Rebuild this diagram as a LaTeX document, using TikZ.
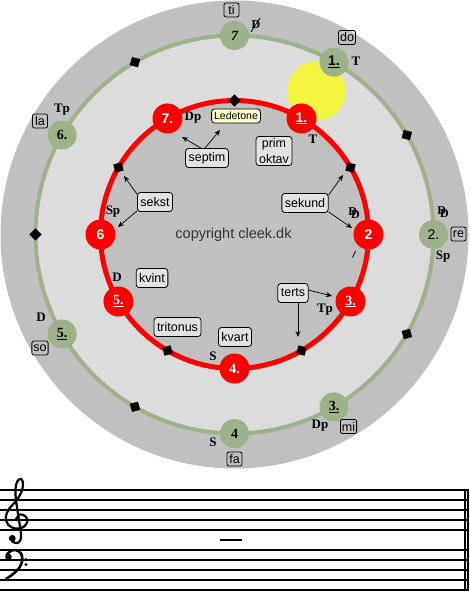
\documentclass[tikz,border=0pt]{standalone}
\usepackage{fontspec}
\setmainfont{Liberation Serif}
\setsansfont{Liberation Sans}
\usetikzlibrary{arrows.meta,shapes.geometric}
\definecolor{outergray}{HTML}{C0C0C0}
\definecolor{ringgray}{HTML}{DCDCDC}
\definecolor{sage}{HTML}{9CB389}
\definecolor{sun}{HTML}{F4F443}
\definecolor{boxfill}{HTML}{E2E2E2}
\definecolor{ledfill}{HTML}{FFFFCC}
\definecolor{copygray}{HTML}{333333}
\begin{document}
\begin{tikzpicture}[x=1pt,y=-1pt,
  gnode/.style={circle,fill=sage,minimum size=29pt,inner sep=0pt,font=\bfseries\fontsize{14}{14}\selectfont},
  rnode/.style={circle,fill=red,minimum size=30pt,inner sep=0pt,text=white,font=\bfseries\fontsize{14}{14}\selectfont},
  fn/.style={font=\bfseries\fontsize{13}{13}\selectfont,inner sep=0pt},
  syl/.style={draw,rounded corners=2pt,line width=0.8pt,inner xsep=1.5pt,inner ysep=0pt,minimum height=14pt,minimum width=15pt,font=\sffamily\fontsize{12.5}{13}\selectfont},
  ibox/.style={draw,rounded corners=3pt,line width=0.8pt,fill=boxfill,inner xsep=3pt,inner ysep=0pt,minimum height=19pt,font=\sffamily\fontsize{12.5}{14}\selectfont},
  dia/.style={fill=black,rectangle,minimum size=8.5pt,inner sep=0pt},
  arr/.style={-{Stealth[length=6pt,width=5pt]},line width=0.7pt},
  staffline/.style={line width=1.3pt},
  clefline/.style={line width=2.2pt,line cap=round,line join=round}
]
\useasboundingbox (0,0) rectangle (469,615);
\fill[white] (0,0) rectangle (469,615);

% discs
\fill[outergray] (234.5,234.5) circle (234);
\fill[ringgray] (234.5,234.5) circle (199);
\fill[outergray] (234.5,234.5) circle (134);
\fill[sun] (316.5,91) circle (29.5);
\draw[sage,line width=4pt] (234.5,234.5) circle (199);
\draw[red,line width=5pt] (234.5,234.5) circle (134);

\begin{scope}[shift={(234.5,234.5)}]
  % green diamonds
  \node[dia,rotate=75]  (gd30)  at (-30:199) {};
  \node[dia,rotate=15]  (gdm30) at (30:199) {};
  \node[dia,rotate=-75] (gdm120) at (120:199) {};
  \node[dia,rotate=45]  (gd180) at (-180:199) {};
  \node[dia,rotate=165] (gd120) at (-120:199) {};
  % red diamonds
  \node[dia,rotate=75]  (rd30)  at (-30:134) {};
  \node[dia,rotate=-15] (rdm60) at (60:134) {};
  \node[dia,rotate=-75] (rdm120) at (120:134) {};
  \node[dia,rotate=195] (rd150) at (-150:134) {};
  \node[dia,rotate=45]  (rd90)  at (-90:134) {};
  % green nodes
  \node[gnode,font=\bfseries\sffamily\fontsize{14}{14}\selectfont] (g1) at (-60:199) {\underline{1.}};
  \node[gnode,font=\sffamily\fontsize{14}{14}\selectfont] (g2) at (0:199) {2.};
  \node[gnode] (g3) at (60:199) {\underline{3.}};
  \node[gnode] (g4) at (90:199) {4};
  \node[gnode] (g5) at (-210:199) {\underline{5.}};
  \node[gnode] (g6) at (-150:199) {6.};
  \node[gnode] (g7) at (-90:199) {\itshape 7};
  % red nodes
  \node[rnode,font=\bfseries\sffamily\fontsize{14}{14}\selectfont] (r1) at (-60:134) {\underline{1.}};
  \node[rnode,font=\bfseries\sffamily\fontsize{14}{14}\selectfont] (r2) at (0:134) {2};
  \node[rnode] (r3) at (30:134) {\underline{3.}};
  \node[rnode] (r4) at (90:134) {4.};
  \node[rnode] (r5) at (-210:134) {\underline{5.}};
  \node[rnode,font=\bfseries\sffamily\fontsize{14}{14}\selectfont] (r6) at (180:134) {6};
  \node[rnode,font=\bfseries\sffamily\fontsize{14}{14}\selectfont] (r7) at (-120:134) {7.};
\end{scope}

% syllable boxes
\node[syl] (ti) at (231.5,10) {ti};
\node[syl] (do) at (347,37.5) {do};
\node[syl] (la) at (40,121) {la};
\node[syl] (re) at (458.5,234) {re};
\node[syl] (mi) at (348.5,426.5) {mi};
\node[syl] (fa) at (234.5,459) {fa};
\node[syl] (so) at (40,348) {so};

% function labels, outer ring
\node[fn] (gT) at (356,61) {T};
\node[fn,font=\bfseries\fontsize{12}{12}\selectfont] (gDx) at (256,25) {D};
\draw[line width=0.8pt] (251,32) -- (260,18);
\node[fn] (gTp) at (62,110) {Tp};
\node[fn,font=\bfseries\fontsize{12}{12}\selectfont] (gDD) at (443,212) {D\kern-6pt\raisebox{-3pt}{D}};
\node[fn] (gSp) at (443,257) {Sp};
\node[fn] (gDp) at (320,426) {Dp};
\node[fn] (gS) at (213,442) {S};
\node[fn] (gD) at (41,317) {D};

% function labels, inner ring
\node[fn] (rT) at (313,139) {T};
\node[fn] (rDp) at (193,118) {Dp};
\node[fn,font=\bfseries\fontsize{12}{12}\selectfont] (rDD) at (354,213) {D\kern-6pt\raisebox{-3pt}{D}};
\draw[line width=0.8pt] (352.5,257.5) -- (355.5,251);
\node[fn] (rTp) at (325,310) {Tp};
\node[fn] (rS) at (213,356) {S};
\node[fn] (rD) at (117,277) {D};
\node[fn] (rSp) at (113,212) {Sp};

% interval boxes
\node[ibox,fill=ledfill,minimum height=14pt,inner xsep=2.5pt,font=\sffamily\fontsize{10.5}{11}\selectfont] (led) at (236,116) {Ledetone};
\node[ibox] (septim) at (207,158) {septim};
\node[ibox,align=center,font=\sffamily\fontsize{12.5}{16}\selectfont,inner ysep=2pt] (prim) at (274,151) {prim\\oktav};
\node[ibox] (sekund) at (305,203) {sekund};
\node[ibox] (sekst) at (155,202) {sekst};
\node[ibox] (kvint) at (152,278) {kvint};
\node[ibox] (tritonus) at (177.5,327) {tritonus};
\node[ibox] (kvart) at (235,337) {kvart};
\node[ibox] (terts) at (293,293) {terts};

\node[font=\sffamily\fontsize{14.5}{15}\selectfont,text=copygray] (copy) at (233.5,235) {copyright cleek.dk};

% arrow ends
\coordinate (e1) at (182,137);
\coordinate (e2) at (220,130);
\coordinate (e3) at (343,175);
\coordinate (e4) at (352,228);
\coordinate (e5) at (124,176);
\coordinate (e6) at (118,227);
\coordinate (e7) at (332,296);
\coordinate (e8) at (298,337);

\draw[arr] ([xshift=-6pt]septim.north) -- (e1);
\draw[arr] ([xshift=-2pt]septim.north) -- (e2);
\draw[arr] ([yshift=-2pt]sekund.north east) -- (e3);
\draw[arr] ([yshift=1pt]sekund.south east) -- (e4);
\draw[arr] ([yshift=-2pt]sekst.north west) -- (e5);
\draw[arr] ([yshift=1pt]sekst.south west) -- (e6);
\draw[arr] ([yshift=3pt]terts.east) -- (e7);
\draw[arr] ([xshift=5pt]terts.south) -- (e8);

% staff
\foreach \yy in {490,500,510,520,530,550,560,570,580,590}
  \draw[staffline] (0,\yy) -- (468.5,\yy);
\draw[line width=1.3pt] (465,489.35) -- (465,590.65);
\draw[line width=2pt] (467.7,489.35) -- (467.7,590.65);
\coordinate (ledA) at (220,540);
\coordinate (ledB) at (242,540);
\draw[line width=1.5pt] (ledA) -- (ledB);

% treble clef
\draw[clefline] plot[smooth,tension=0.6] coordinates {(16,519) (20,514.5) (25,516) (27.5,521) (23.5,527) (15,528.5) (8,524.5) (5.8,517) (9,509) (16,501) (21,493) (23,485) (21.5,479) (17.5,481) (15.5,489) (16,500) (18.5,517) (20.5,530) (21,538.5) (17.5,543) (12,541.5)};
\fill (12.3,538.3) circle (3.4);
% bass clef
\draw[line width=2.6pt,line cap=round] plot[smooth,tension=0.6] coordinates {(6.5,555) (10.5,551) (16,550.2) (21,553.5) (22.3,560) (19.5,567.5) (13,574) (6,579)};
\fill (8.5,557) circle (3.3);
\fill (26,559.5) circle (1.7);
\fill (26,564.5) circle (1.7);
\end{tikzpicture}
\end{document}
